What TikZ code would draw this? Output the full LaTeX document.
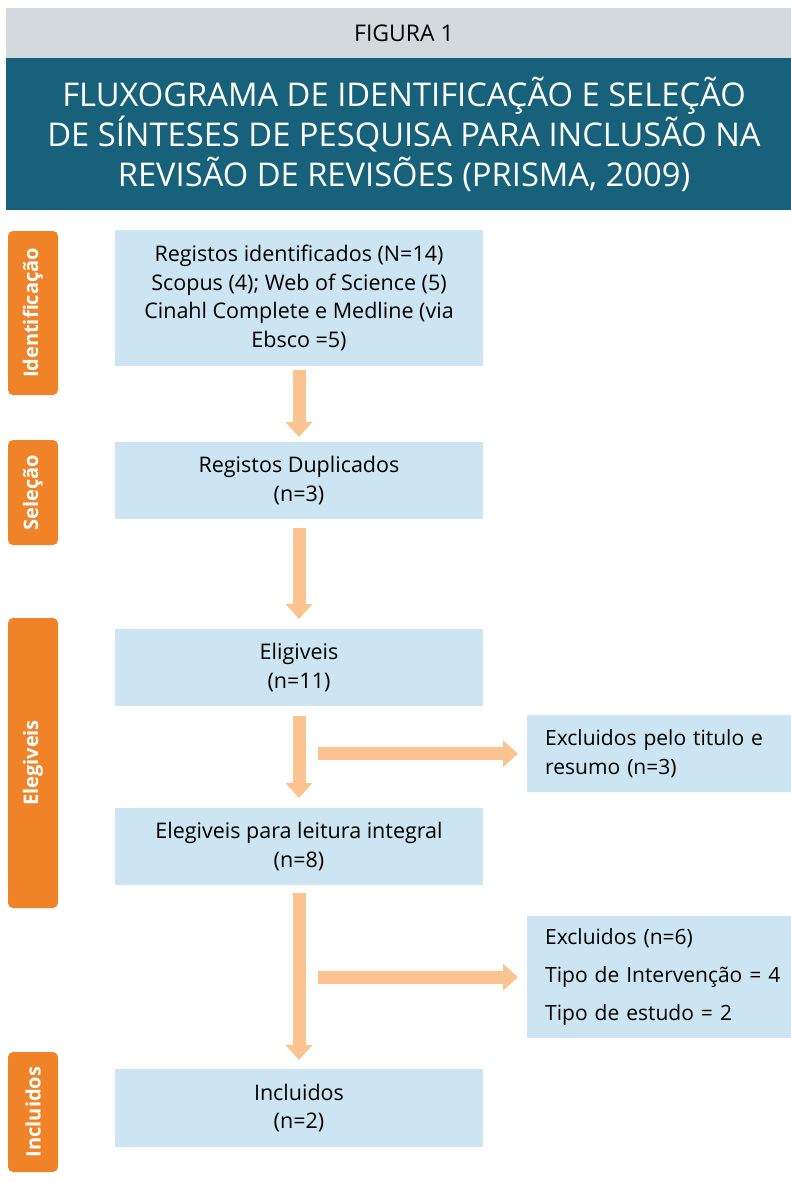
\documentclass[tikz,border=0pt]{standalone}
\usepackage{fontspec}
\setmainfont{Open Sans}
\newfontfamily\titlefont{Open Sans}
\newfontfamily\tabfont{Open Sans}
\usetikzlibrary{arrows.meta,calc}
\definecolor{hdrgray}{HTML}{D2DADE}
\definecolor{teal}{HTML}{17627A}
\definecolor{boxblue}{HTML}{CDE4F2}
\definecolor{taborange}{HTML}{F08328}
\definecolor{arrowc}{HTML}{FBC38F}
\begin{document}
\begin{tikzpicture}[x=1pt,y=-1pt,
  mainbox/.style={fill=boxblue, minimum width=368pt, align=center, anchor=north, inner sep=0pt,
     font=\fontsize{21.5}{28.5}\selectfont},
  sidebox/.style={fill=boxblue, minimum width=263pt, align=left, anchor=north west, inner xsep=18pt,
     inner ysep=0pt, text width=240pt},
  tabbox/.style={fill=taborange, rounded corners=5pt, minimum height=50pt, rotate=90, text=white,
     inner sep=0pt, font=\tabfont\bfseries\fontsize{20}{22}\selectfont},
  varrow/.style={draw=arrowc, line width=13pt, -{Triangle[width=26pt,length=15pt]}},
  harrow/.style={draw=arrowc, line width=13pt, -{Triangle[width=26pt,length=15pt]}}
]
\useasboundingbox (0,0) rectangle (790,1183);
\fill[white] (0,0) rectangle (790,1183);
% header
\node[fill=hdrgray, minimum width=796pt, minimum height=50pt, inner sep=0pt, anchor=north,
  font=\titlefont\fontsize{23}{25}\selectfont] (fig) at (404,8) {FIGURA 1};
\node[fill=teal, minimum width=796pt, minimum height=152pt, inner sep=0pt, anchor=north, text=white,
  align=center, font=\titlefont\fontsize{32.7}{40}\selectfont] (title) at (404,58)
  {FLUXOGRAMA DE IDENTIFICAÇÃO E SELEÇÃO\\DE SÍNTESES DE PESQUISA PARA INCLUSÃO NA\\REVISÃO DE REVISÕES (PRISMA, 2009)};
% tabs
\node[tabbox, minimum width=164pt] (t1) at (33,313) {Identificação};
\node[tabbox, minimum width=105pt] (t2) at (33,492.5) {Seleção};
\node[tabbox, minimum width=290pt] (t3) at (33,763) {Elegiveis};
\node[tabbox, minimum width=120pt] (t4) at (33,1112) {Incluidos};
% main boxes
\node[mainbox, minimum height=136pt] (b1) at (299,230)
  {Registos identificados (N=14)\\Scopus (4); Web of Science (5)\\Cinahl Complete e Medline (via\\Ebsco =5)};
\node[mainbox, minimum height=77pt] (b2) at (299,442) {Registos Duplicados\\(n=3)};
\node[mainbox, minimum height=77pt] (b3) at (299,629) {Eligiveis\\(n=11)};
\node[mainbox, minimum height=77pt] (b4) at (299,808) {Elegiveis para leitura integral\\(n=8)};
\node[mainbox, minimum height=78pt] (b5) at (299,1069) {Incluidos\\(n=2)};
% side boxes
\node[sidebox, minimum height=77pt, font=\fontsize{21}{29}\selectfont] (e1) at (527,715)
  {Excluidos pelo titulo e\\resumo (n=3)};
\node[sidebox, minimum height=122pt, font=\fontsize{21}{38}\selectfont] (e2) at (527,916)
  {Excluidos (n=6)\\Tipo de Intervenção = 4\\Tipo de estudo = 2};
% vertical arrows
\draw[varrow] ($(b1.south)+(0,4)$) -- ($(b2.north)+(0,-5)$);
\draw[varrow] ($(b2.south)+(0,9)$) -- ($(b3.north)+(0,-10)$);
\draw[varrow] ($(b3.south)+(0,10)$) -- ($(b4.north)+(0,-10)$);
\draw[varrow] ($(b4.south)+(0,8)$) -- ($(b5.north)+(0,-9)$);
% horizontal arrows
\coordinate (h1) at (318,0 |- e1.west);
\coordinate (h2) at (318,0 |- e2.west);
\draw[harrow] (h1) -- ($(e1.west)+(-9,0)$);
\draw[harrow] (h2) -- ($(e2.west)+(-9,0)$);
\end{tikzpicture}
\end{document}
